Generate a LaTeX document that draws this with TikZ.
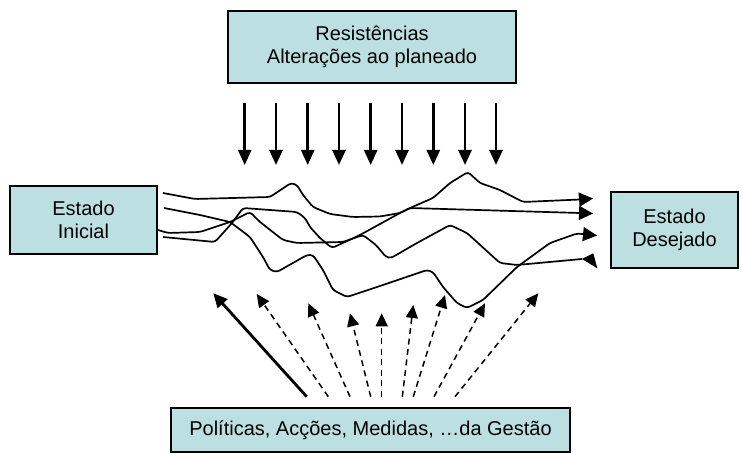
\documentclass[tikz,border=0pt]{standalone}
\usepackage{fontspec}
\setmainfont{Liberation Sans}
\usetikzlibrary{arrows.meta}
\definecolor{boxfill}{RGB}{188,224,226}
\begin{document}
\begin{tikzpicture}[x=1pt,y=-1pt,
  box/.style={draw=black, line width=1.4pt, fill=boxfill, inner sep=0pt,
    align=center, font=\fontsize{20}{23}\selectfont},
  pressure/.style={line width=2.6pt, -{Triangle[length=15pt,width=13pt]}},
  mainaction/.style={line width=2.8pt, -{Triangle[length=14pt,width=13pt]}},
  sideaction/.style={line width=1.5pt, dash pattern=on 6pt off 4.5pt,
    -{Triangle[length=13pt,width=12pt]}},
  route/.style={line width=1.7pt, rounded corners=3pt, line join=round},
  routeend/.style={route, -{Triangle[length=14pt,width=14pt]}}
]
\useasboundingbox (0,0) rectangle (742,454);

% state boxes
\node[box, minimum width=288pt, minimum height=72pt] (resist) at (372,47)
  {Resistências\\Alterações ao planeado};
\node[box, minimum width=147pt, minimum height=68pt] (start) at (83.5,220)
  {Estado\\Inicial};
\node[box, minimum width=127pt, minimum height=76pt] (goal) at (674.5,230)
  {Estado\\Desejado};
\node[box, minimum width=399pt, minimum height=44pt] (mgmt) at (370.5,430)
  {Políticas, Acções, Medidas, …da Gestão};

% pressures acting from above
\foreach \x [count=\i] in {244.7,276,307.7,339,370.7,402,433.3,465,496} {
  \coordinate (p\i) at (\x,103);
  \coordinate (q\i) at (\x,165);
  \draw[pressure] (p\i) -- (q\i);
}

% management actions pushing from below
\foreach \sx/\tx/\ty [count=\i] in {
    306.7/213.3/293.3, 328.3/256.7/294, 350/308.3/303.3,
    370.7/350/313.3, 381.7/381.7/313.3, 402.3/413.3/305,
    413.3/445/295, 434/485/303.3, 455/538.3/293.3} {
  \coordinate (a\i) at (\sx,396.7);
  \coordinate (b\i) at (\tx,\ty);
}
\draw[mainaction] (a1) -- (b1);
\foreach \i in {2,...,9} { \draw[sideaction] (a\i) -- (b\i); }

% possible routes from the initial to the desired state
\coordinate (r1s) at (163,193);
\coordinate (r1e) at (593,198.5);
\draw[routeend] (r1s) -- (195,199) -- (270,197) -- (291,183) -- (297,185)
  -- (303,195) -- (313,207) -- (330,214) -- (353,217) -- (380,216.5)
  -- (400,213) -- (410,208) -- (433,198) -- (450,183) -- (468,172)
  -- (480,183) -- (500,190) -- (523,202) -- (580,199.5) -- (r1e);

\coordinate (r2s) at (163,237);
\coordinate (r2e) at (593,213.5);
\draw[routeend] (r2s) -- (215,242) -- (232,223) -- (243,208) -- (270,210)
  -- (297,212) -- (305,218) -- (310,227) -- (320,238) -- (332,248)
  -- (360,235) -- (400,213) -- (410,208) -- (580,213) -- (r2e);

\coordinate (r3s) at (164,208);
\coordinate (r3e) at (597,235.5);
\draw[routeend] (r3s) -- (200,215) -- (230,222) -- (250,237) -- (263,257)
  -- (270,270) -- (277,272) -- (307,255) -- (313,255) -- (323,270)
  -- (333,290) -- (347,297) -- (383,285) -- (427,270) -- (433,272)
  -- (443,287) -- (457,303) -- (467,308) -- (483,300) -- (517,267)
  -- (550,243) -- (577,233.5) -- (r3e);

\coordinate (r4s) at (158,230);
\coordinate (r4e) at (582,259);
\draw[route] (r4s) -- (168,233) -- (200,232) -- (230,222) -- (250,212)
  -- (260,222) -- (283,240) -- (297,243) -- (343,242) -- (363,235)
  -- (376,245) -- (386,257) -- (391,258) -- (417,243) -- (450,225)
  -- (467,233) -- (500,263) -- (517,265) -- (r4e);
\fill (r4e) -- (593.3,253.3) -- (597.3,268.3) -- cycle;
\end{tikzpicture}
\end{document}
